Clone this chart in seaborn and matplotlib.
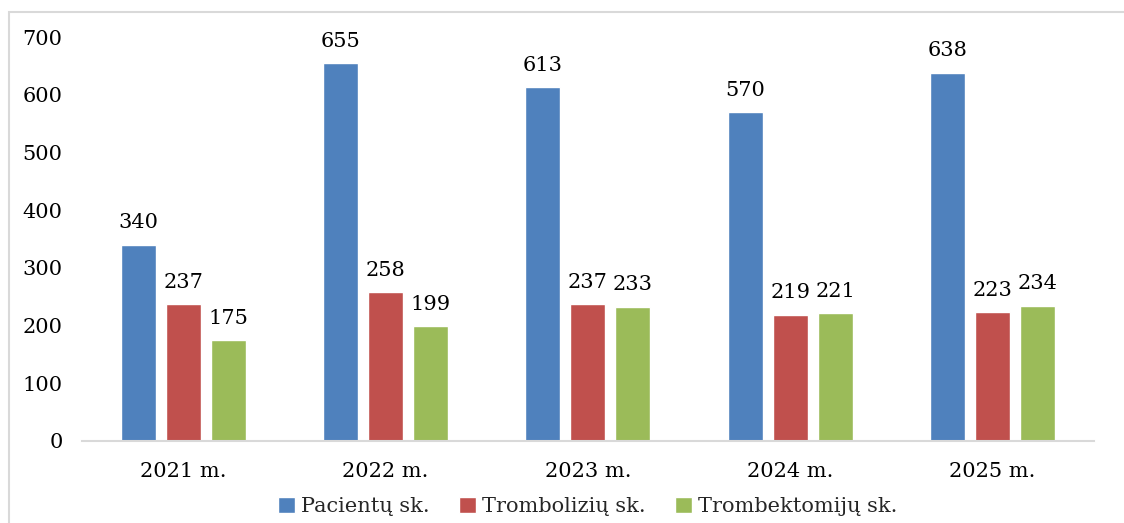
import matplotlib
matplotlib.use("Agg")
import matplotlib.pyplot as plt
import seaborn as sns
import pandas as pd
from matplotlib.patches import Rectangle

years = ["2021 m.", "2022 m.", "2023 m.", "2024 m.", "2025 m."]
series_names = ["Pacientų sk.", "Trombolizių sk.", "Trombektomijų sk."]
pacientai = [340, 655, 613, 570, 638]
trombolizes = [237, 258, 237, 219, 223]
trombektomijos = [175, 199, 233, 221, 234]
colors = ["#4F81BD", "#C0504D", "#9BBB59"]

rows = []
for name, vals in zip(series_names, [pacientai, trombolizes, trombektomijos]):
    for y, v in zip(years, vals):
        rows.append({"Metai": y, "Serija": name, "Reikšmė": v})
df = pd.DataFrame(rows)

sns.set_theme(style="white")
plt.rcParams["font.family"] = ["DejaVu Serif"]
FS = 15

fig = plt.figure(figsize=(11.24, 5.23), dpi=100)
ax = fig.add_axes([0.073, 0.1568, 0.9, 0.7722])

sns.barplot(data=df, x="Metai", y="Reikšmė", hue="Serija", order=years,
            hue_order=series_names, palette=colors, width=0.667, gap=0.22,
            saturation=1, ax=ax, legend=True)

for cont in ax.containers:
    ax.bar_label(cont, fmt="%d", padding=9, fontsize=FS, color="#000000")

ax.set_ylim(0, 700)
ax.set_yticks(range(0, 701, 100))
ax.set_xlabel("")
ax.set_ylabel("")
for s in ["top", "right", "left"]:
    ax.spines[s].set_visible(False)
ax.spines["bottom"].set_color("#d9d9d9")
ax.spines["bottom"].set_linewidth(1.5)
ax.tick_params(axis="both", length=0, labelsize=FS, colors="#000000")
ax.tick_params(axis="x", pad=15)
ax.tick_params(axis="y", pad=14)

handles, labels = ax.get_legend_handles_labels()
ax.get_legend().remove()
fig.legend(handles, labels, loc="center", bbox_to_anchor=(0.523, 0.031),
           ncol=3, frameon=False, fontsize=FS, handlelength=0.8,
           handleheight=0.8, handletextpad=0.3, columnspacing=1.4,
           borderaxespad=0, borderpad=0)

fig.patches.append(Rectangle((8.5 / 1124, -0.2), 1.2, 1 - 11.5 / 523 + 0.2,
                             transform=fig.transFigure, fill=False,
                             edgecolor="#d9d9d9", linewidth=1.5))

fig.savefig("out.png", dpi=100)
